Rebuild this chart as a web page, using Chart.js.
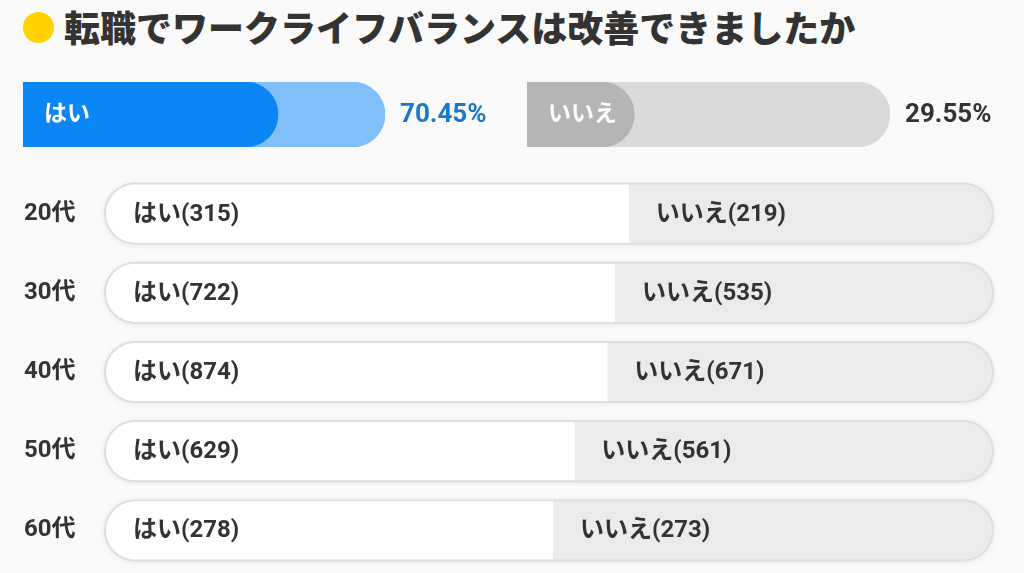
<!DOCTYPE html>
<html lang="ja">
<head>
<meta charset="utf-8">
<script src="https://cdn.jsdelivr.net/npm/chart.js@4.4.1/dist/chart.umd.min.js"></script>
<style>
  html, body { margin: 0; padding: 0; background: #fafafa; }
  body { width: 1024px; height: 573px; position: relative; overflow: hidden;
         font-family: Roboto, "Noto Sans CJK JP", sans-serif; }
  .dot { position: absolute; left: 23px; top: 12px; width: 31px; height: 31px;
         border-radius: 50%; background: #ffd200; }
  .title { position: absolute; left: 64px; top: 4px; font-size: 36px; font-weight: 900;
           color: #333; line-height: 44px; font-family: "Noto Sans CJK JP", sans-serif; }
  canvas { position: absolute; }
</style>
</head>
<body>
<div class="dot"></div>
<div class="title">転職でワークライフバランスは改善できましたか</div>
<canvas id="yesChart" width="480" height="81" style="left:23px;top:74px"></canvas>
<canvas id="noChart" width="497" height="81" style="left:527px;top:74px"></canvas>
<canvas id="ageChart" width="1024" height="396" style="left:0;top:174px"></canvas>
<script>
// 全体の回答割合
const summaryLabels = ["はい", "いいえ"];
const summaryValues = [70.45, 29.55];

// 年代別の回答数
const ageGroups = ["20代", "30代", "40代", "50代", "60代"];
const yesCounts = [315, 722, 874, 629, 278];
const noCounts = [219, 535, 671, 561, 273];

const FONT = 'Roboto, "Noto Sans CJK JP", sans-serif';
const TEXT = "#333333";

// === 全体バー (はい / いいえ) ===
function summaryChart(id, idx, dark, light, valueColor, padRight) {
  const labelPlugin = {
    id: "summaryLabels" + idx,
    afterDatasetsDraw(chart) {
      const ctx = chart.ctx;
      const bar = chart.getDatasetMeta(1).data[0];
      const xs = chart.scales.x;
      ctx.save();
      ctx.textBaseline = "middle";
      ctx.font = "bold 23px " + FONT;
      ctx.fillStyle = "#ffffff";
      ctx.fillText(summaryLabels[idx], xs.getPixelForValue(0) + 21, bar.y + 1);
      ctx.font = "bold 26px " + FONT;
      ctx.fillStyle = valueColor;
      ctx.fillText(summaryValues[idx].toFixed(2) + "%", xs.getPixelForValue(100) + 15, bar.y + 1);
      ctx.restore();
    },
  };

  return new Chart(document.getElementById(id), {
    type: "bar",
    data: {
      labels: [summaryLabels[idx]],
      datasets: [
        {
          data: [summaryValues[idx]],
          backgroundColor: dark,
          grouped: false,
          borderSkipped: false,
          borderRadius: { topRight: 100, bottomRight: 100 },
        },
        {
          data: [100],
          backgroundColor: light,
          grouped: false,
          borderSkipped: false,
          borderRadius: { topRight: 100, bottomRight: 100 },
        },
      ],
    },
    options: {
      indexAxis: "y",
      responsive: false,
      animation: false,
      layout: { padding: { top: 8, bottom: 8, left: 0, right: padRight } },
      plugins: { legend: { display: false }, tooltip: { enabled: false } },
      datasets: { bar: { barPercentage: 1, categoryPercentage: 1 } },
      scales: {
        x: { display: false, min: 0, max: 100 },
        y: { display: false },
      },
    },
    plugins: [labelPlugin],
  });
}

summaryChart("yesChart", 0, "#0b86f5", "#7fc0fb", "#1a78cc", 118);
summaryChart("noChart", 1, "#b5b5b5", "#dadada", TEXT, 134);

// === 年代別バー ===
const yesPct = yesCounts.map((v, i) => (v / (v + noCounts[i])) * 100);
const noPct = noCounts.map((v, i) => (v / (yesCounts[i] + v)) * 100);

function pillPath(ctx, xs, bar) {
  const x0 = xs.getPixelForValue(0);
  const x1 = xs.getPixelForValue(100);
  const h = bar.height;
  ctx.beginPath();
  ctx.roundRect(x0, bar.y - h / 2, x1 - x0, h, h / 2);
}

const agePlugin = {
  id: "ageLabels",
  beforeDatasetsDraw(chart) {
    // うっすら影
    const ctx = chart.ctx;
    ctx.save();
    ctx.shadowColor = "rgba(0,0,0,0.10)";
    ctx.shadowBlur = 6;
    ctx.shadowOffsetY = 1;
    ctx.fillStyle = "#ffffff";
    chart.getDatasetMeta(0).data.forEach((bar) => {
      pillPath(ctx, chart.scales.x, bar);
      ctx.fill();
    });
    ctx.restore();
  },
  afterDatasetsDraw(chart) {
    const ctx = chart.ctx;
    const xs = chart.scales.x;
    const m1 = chart.getDatasetMeta(1);
    ctx.save();
    chart.getDatasetMeta(0).data.forEach((bar, i) => {
      pillPath(ctx, xs, bar);
      ctx.lineWidth = 2;
      ctx.strokeStyle = "#dedede";
      ctx.stroke();
      ctx.textBaseline = "middle";
      ctx.font = "bold 24px " + FONT;
      ctx.fillStyle = TEXT;
      ctx.fillText("はい(" + yesCounts[i] + ")", xs.getPixelForValue(0) + 28, bar.y + 1);
      ctx.fillText("いいえ(" + noCounts[i] + ")", m1.data[i].base + 27, bar.y + 1);
    });
    ctx.restore();
  },
};

new Chart(document.getElementById("ageChart"), {
  type: "bar",
  data: {
    labels: ageGroups,
    datasets: [
      {
        data: yesPct,
        backgroundColor: "#ffffff",
        borderSkipped: false,
        borderRadius: { topLeft: 100, bottomLeft: 100 },
      },
      {
        data: noPct,
        backgroundColor: "#ebebeb",
        borderSkipped: false,
        borderRadius: { topRight: 100, bottomRight: 100 },
      },
    ],
  },
  options: {
    indexAxis: "y",
    responsive: false,
    animation: false,
    layout: { padding: { top: 0, bottom: 0, left: 24, right: 31 } },
    plugins: { legend: { display: false }, tooltip: { enabled: false } },
    datasets: { bar: { barPercentage: 0.76, categoryPercentage: 1 } },
    scales: {
      x: { display: false, stacked: true, min: 0, max: 100 },
      y: {
        stacked: true,
        grid: { display: false },
        border: { display: false },
        afterFit(scale) {
          scale.width = 81;
          scale.paddingTop = 0;
          scale.paddingBottom = 0;
        },
        ticks: {
          crossAlign: "far",
          color: TEXT,
          font: { family: FONT, size: 24, weight: "bold" },
        },
      },
    },
  },
  plugins: [agePlugin],
});
</script>
</body>
</html>
